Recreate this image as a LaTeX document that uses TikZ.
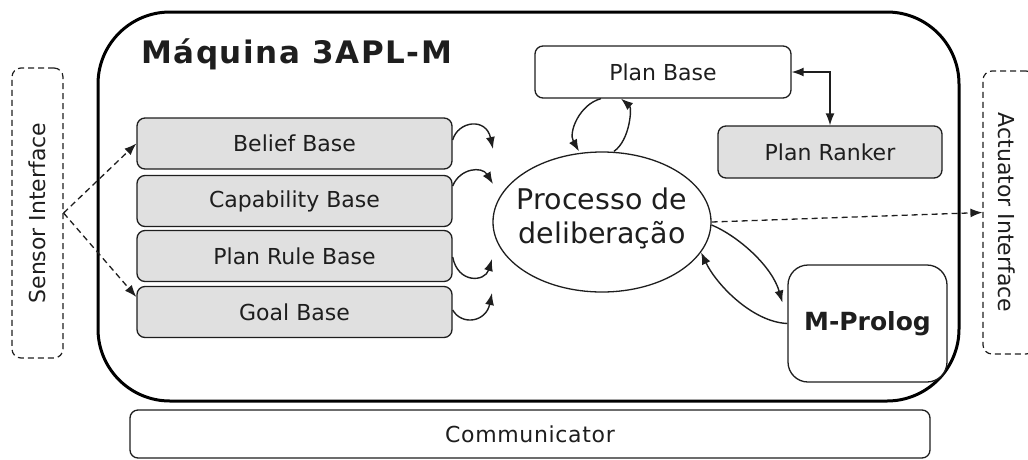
\documentclass[tikz,border=0pt]{standalone}
\usepackage{fontspec}
\setmainfont{DejaVu Sans}
\usetikzlibrary{arrows.meta,shapes.geometric}
\definecolor{boxgray}{HTML}{E0E0E0}
\definecolor{ink}{HTML}{1E1E1E}
\begin{document}
\begin{tikzpicture}[x=1pt,y=-1pt,
  txt/.style={font=\fontsize{22}{26}\selectfont,text=ink,inner sep=0pt},
  kb/.style={draw=ink,line width=1.3pt,rounded corners=8pt,fill=boxgray,
    minimum width=315pt,minimum height=51pt,inner sep=0pt,txt},
  plainbox/.style={draw=ink,line width=1.3pt,rounded corners=8pt,fill=white,inner sep=0pt,txt},
  iface/.style={draw=ink,line width=1.2pt,dash pattern=on 6pt off 4pt,rounded corners=9pt},
  flow/.style={draw=ink,line width=1.4pt,-{Latex[length=12pt,width=9pt]}},
  dflow/.style={draw=ink,line width=1.3pt,dash pattern=on 6pt off 4pt,-{Latex[length=12pt,width=9pt]}}]
\useasboundingbox (0,0) rectangle (1028,459);

% engine container
\node[draw=black,line width=3pt,rounded corners=72pt,minimum width=861pt,
  minimum height=389pt,inner sep=0pt] (maq) at (528.5,206.5) {};
\node[anchor=base west,inner sep=0pt,text=ink,
  font=\bfseries\fontsize{31}{36}\selectfont\addfontfeature{LetterSpace=5}]
  (title) at (141,63) {Máquina 3APL-M};

% interfaces
\node[iface,minimum width=51pt,minimum height=290pt] (sensor) at (37.5,213) {};
\node[txt,rotate=90] (sensorlbl) at (37.5,213) {Sensor Interface};
\node[iface,minimum width=52pt,minimum height=283pt] (act) at (1009,212.5) {};
\node[txt,rotate=-90] (actlbl) at (1007,212.5) {Actuator Interface};

% knowledge bases
\node[kb] (belief) at (294.5,143.5) {Belief Base};
\node[kb] (capab)  at (294.5,201)   {Capability Base};
\node[kb] (prule)  at (294.5,256)   {Plan Rule Base};
\node[kb] (goal)   at (294.5,312)   {Goal Base};

% deliberation cycle
\node[draw=ink,line width=1.3pt,ellipse,minimum width=218pt,minimum height=140pt,
  inner sep=0pt] (ell) at (602,222) {};
\node[align=center,inner sep=0pt,text=ink,font=\fontsize{28.5}{34}\selectfont]
  (elltxt) at (602,218) {Processo de\\deliberação};

% plan handling
\node[plainbox,minimum width=256pt,minimum height=52pt] (pbase) at (663,72) {Plan Base};
\node[kb,minimum width=224pt,minimum height=52pt] (prank) at (830,152) {Plan Ranker};

% prolog engine
\node[draw=ink,line width=1.3pt,rounded corners=20pt,fill=white,minimum width=159pt,
  minimum height=117pt,inner sep=0pt,text=ink,
  font=\bfseries\fontsize{25}{30}\selectfont] (prolog) at (867.5,323.5) {M-Prolog};

% communicator
\node[plainbox,minimum width=800pt,minimum height=48pt,
  font=\fontsize{22}{26}\selectfont\addfontfeature{LetterSpace=3}] (comm) at (530,434) {Communicator};

% tip points in front of the deliberation process
\coordinate (tb) at (493,149);
\coordinate (tc) at (493,184);
\coordinate (tp) at (492,259);
\coordinate (tg) at (492,293);

% sensor inputs
\draw[dflow] (sensor.east) -- (belief.west);
\draw[dflow] (sensor.east) -- ([yshift=15pt]goal.west);

% knowledge bases feeding the cycle
\draw[flow] ([yshift=3.5pt]belief.east) .. controls (458,121) and (486,117) .. (tb);
\draw[flow] ([yshift=15pt]capab.east) .. controls (460,168) and (482,166) .. (tc);
\draw[flow] ([yshift=-1pt]prule.east) .. controls (458,284) and (485,282) .. (tp);
\draw[flow] ([yshift=2pt]goal.east) .. controls (462,326) and (486,322) .. (tg);

% plan base loop
\draw[flow] ([xshift=-62pt]pbase.south) .. controls (580,104) and (568,132) .. ([xshift=-23pt]ell.north);
\draw[flow] ([xshift=12pt]ell.north) .. controls (630,140) and (632,108) .. ([xshift=-42pt]pbase.south);

% plan base <-> plan ranker
\draw[draw=ink,line width=1.4pt,{Latex[length=12pt,width=9pt]}-{Latex[length=12pt,width=9pt]}]
  (pbase.east) -| (prank.north);

% actuator output
\draw[dflow] (ell.east) -- (act.west);

% prolog exchange
\draw[flow] ([yshift=-3pt]ell.east) .. controls (738,236) and (772,266) .. ([xshift=-5pt,yshift=21pt]prolog.west);
\draw[flow] (prolog.west) .. controls (752,322) and (716,284) .. (ell.-17);
\end{tikzpicture}
\end{document}
